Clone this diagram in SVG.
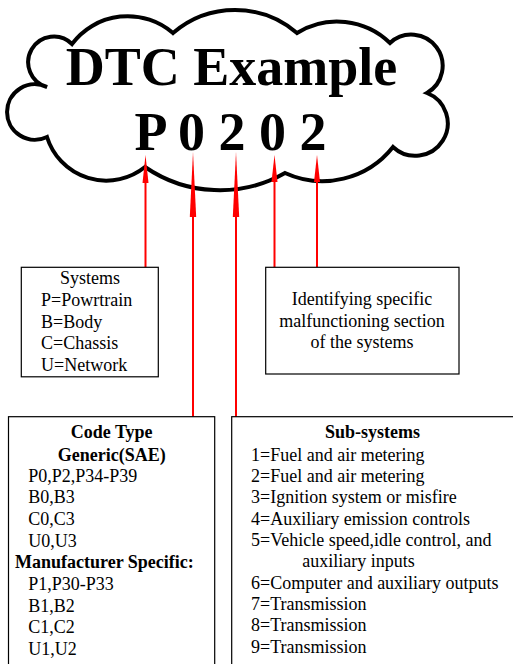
<svg xmlns="http://www.w3.org/2000/svg" width="513" height="664" viewBox="0 0 513 664">
<style>
  .t { font-family: "Liberation Serif", "Times New Roman", serif; font-size: 18px; fill: #000; }
  .b { font-weight: bold; }
  .big { font-family: "Liberation Serif", "Times New Roman", serif; font-size: 54px; font-weight: bold; fill: #000; }
  .box { fill: #fff; stroke: #000; stroke-width: 1.2; }
  .line { stroke: #ff0000; stroke-width: 2; fill: none; }
  .head { fill: #ff0000; stroke: none; }
</style>
<rect width="513" height="664" fill="#fff"/>
<g id="cloud">
  <path d="M72,44 A69.5,69.5 0 0 1 173,33 A95,95 0 0 1 297,33 A76,76 0 0 1 390,43 A31.3,31.3 0 1 1 427,93 A32.5,32.5 0 1 1 393,147 A90,90 0 0 1 285,173 A132,132 0 0 1 145,167 A62,62 0 0 1 47,137 A27.8,27.8 0 1 1 47,87 A25.7,25.7 0 1 1 72,44 Z" fill="#fff" stroke="#000" stroke-width="4" stroke-linejoin="miter"/>
  <text class="big" x="231.5" y="85" text-anchor="middle">DTC Example</text>
  <text class="big" x="230.5" y="150" text-anchor="middle" xml:space="preserve">P 0 2 0 2</text>
</g>
<g id="connectors">
  <line class="line" x1="145.5" y1="180" x2="145.5" y2="267"/>
  <polygon class="head" points="145.5,155 142.5,183 148.5,183"/>
  <line class="line" x1="193" y1="214" x2="193" y2="417"/>
  <polygon class="head" points="193,152 189.8,217 196.2,217"/>
  <line class="line" x1="236" y1="214" x2="236" y2="417"/>
  <polygon class="head" points="236,152 232.8,217 239.2,217"/>
  <line class="line" x1="274.5" y1="180" x2="274.5" y2="267"/>
  <polygon class="head" points="274.5,155 271.5,182 277.5,182"/>
  <line class="line" x1="317" y1="180" x2="317" y2="267"/>
  <polygon class="head" points="317,155 314,182 320,182"/>
</g>
<g id="systems">
  <rect class="box" x="21.3" y="267.3" width="137" height="109.5"/>
  <text class="t" x="90" y="283.5" text-anchor="middle">Systems</text>
  <text class="t" x="41" y="306">P=Powrtrain</text>
  <text class="t" x="41" y="327.7">B=Body</text>
  <text class="t" x="41" y="349.3">C=Chassis</text>
  <text class="t" x="41" y="371">U=Network</text>
</g>
<g id="identifying">
  <rect class="box" x="265.7" y="267.3" width="193.3" height="106.7"/>
  <text class="t" x="362" y="305" text-anchor="middle">Identifying specific</text>
  <text class="t" x="362" y="326.7" text-anchor="middle">malfunctioning section</text>
  <text class="t" x="362" y="347.5" text-anchor="middle">of the systems</text>
</g>
<g id="codetype">
  <rect class="box" x="8.5" y="416.7" width="206.2" height="260"/>
  <text class="t b" x="111.7" y="438.3" text-anchor="middle">Code Type</text>
  <text class="t b" x="111.7" y="460.5" text-anchor="middle">Generic(SAE)</text>
  <text class="t" x="28.3" y="481.7">P0,P2,P34-P39</text>
  <text class="t" x="28.3" y="503">B0,B3</text>
  <text class="t" x="28.3" y="524.5">C0,C3</text>
  <text class="t" x="28.3" y="546.5">U0,U3</text>
  <text class="t b" x="15" y="568.3">Manufacturer Specific:</text>
  <text class="t" x="28.3" y="590">P1,P30-P33</text>
  <text class="t" x="28.3" y="611.7">B1,B2</text>
  <text class="t" x="28.3" y="633.3">C1,C2</text>
  <text class="t" x="28.3" y="655">U1,U2</text>
</g>
<g id="subsystems">
  <rect class="box" x="231.7" y="416.7" width="300" height="260"/>
  <text class="t b" x="372.5" y="438.3" text-anchor="middle">Sub-systems</text>
  <text class="t" x="251" y="460.7">1=Fuel and air metering</text>
  <text class="t" x="251" y="482">2=Fuel and air metering</text>
  <text class="t" x="251" y="503">3=Ignition system or misfire</text>
  <text class="t" x="251" y="524.5">4=Auxiliary emission controls</text>
  <text class="t" x="251" y="546">5=Vehicle speed,idle control, and</text>
  <text class="t" x="302.3" y="567">auxiliary inputs</text>
  <text class="t" x="251" y="588.5">6=Computer and auxiliary outputs</text>
  <text class="t" x="251" y="610">7=Transmission</text>
  <text class="t" x="251" y="631.3">8=Transmission</text>
  <text class="t" x="251" y="652.5">9=Transmission</text>
</g>
</svg>
